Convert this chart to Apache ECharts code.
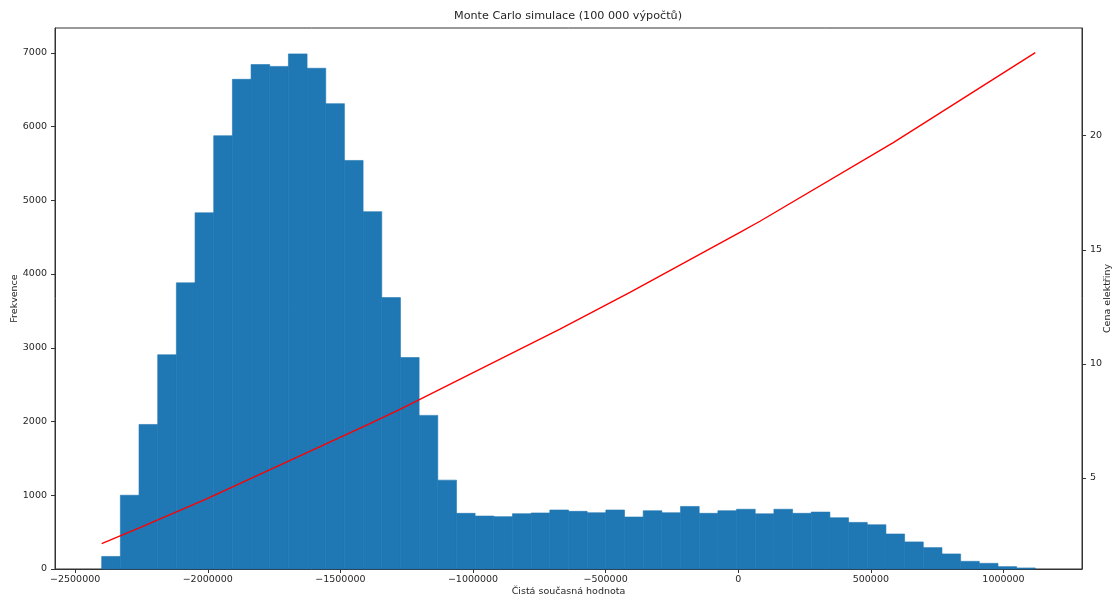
<!DOCTYPE html>
<html><head><meta charset="utf-8">
<script src="https://cdn.jsdelivr.net/npm/echarts@6/dist/echarts.min.js"></script>
<style>html,body{margin:0;padding:0;background:#fff}#c{width:1117px;height:599px}</style>
</head><body><div id="c"></div>
<script>
// Histogram of NPV (Čistá současná hodnota), 50 bins
const histMin = -2400000;
const histMax = 1120000;
const binCounts = [170,1000,1960,2905,3880,4830,5875,6640,6840,6815,6985,6790,6310,5540,4845,3680,2868,2083,1205,755,718,710,750,760,800,782,763,800,705,790,763,848,755,790,810,748,810,755,772,695,632,600,475,367,290,204,104,77,32,14];
// Electricity price line (right axis)
const lineX = [-2400000,-2256000,-2004500,-1388750,-1275630,-672320,-408370,6410,81830,584460,1120000];
const lineY = [2.12,2.82,4.08,7.38,8.01,11.52,13.13,15.76,16.25,19.70,23.64];
// Tick labels
const xTicks = [-2500000,-2000000,-1500000,-1000000,-500000,0,500000,1000000];
const yTicks = [0,1000,2000,3000,4000,5000,6000,7000];
const y2Ticks = [5,10,15,20];

const binW = (histMax - histMin) / binCounts.length;
const histData = binCounts.map((c, i) => [histMin + i * binW, histMin + (i + 1) * binW, c]);
const lineData = lineX.map((x, i) => [x, lineY[i]]);

const FONT = 'DejaVu Sans';
const TXT = '#262626';
const fmt = v => (v < 0 ? '\u2212' + Math.abs(v) : String(v));

const chart = echarts.init(document.getElementById('c'), null, {renderer: 'canvas'});
chart.setOption({
  animation: false,
  backgroundColor: '#fff',
  title: {
    text: 'Monte Carlo simulace (100 000 výpočtů)',
    left: 454, top: 11, padding: 0,
    textStyle: {fontFamily: FONT, fontSize: 11.2, fontWeight: 'normal', color: TXT}
  },
  grid: {left: 55, right: 35, top: 28, bottom: 30, containLabel: false, outerBoundsMode: 'none',
         show: true, borderColor: '#333', borderWidth: 1, backgroundColor: 'transparent'},
  xAxis: {
    type: 'value', min: -2576000, max: 1296000,
    name: 'Čistá současná hodnota', nameLocation: 'middle', nameGap: 18, nameMoveOverlap: false,
    nameTextStyle: {fontFamily: FONT, fontSize: 9.5, color: TXT},
    axisLine: {show: true, onZero: false, lineStyle: {color: '#333', width: 1}},
    axisTick: {show: true, customValues: xTicks, length: 4, lineStyle: {color: '#333'}},
    axisLabel: {customValues: xTicks, formatter: fmt, margin: 6, fontFamily: FONT, fontSize: 9.5, color: TXT},
    splitLine: {show: false}
  },
  yAxis: [{
    type: 'value', min: 0, max: 7336, position: 'left',
    name: 'Frekvence', nameLocation: 'middle', nameGap: 35, nameRotate: 90, nameMoveOverlap: false,
    nameTextStyle: {fontFamily: FONT, fontSize: 9.5, color: TXT},
    axisLine: {show: true, onZero: false, lineStyle: {color: '#333', width: 1}},
    axisTick: {show: true, customValues: yTicks, length: 4, lineStyle: {color: '#333'}},
    axisLabel: {customValues: yTicks, formatter: fmt, margin: 8, fontFamily: FONT, fontSize: 9.5, color: TXT},
    splitLine: {show: false}
  }, {
    type: 'value', min: 1.009, max: 24.72, position: 'right',
    name: 'Cena elektřiny', nameLocation: 'middle', nameGap: 21, nameRotate: 90, nameMoveOverlap: false,
    nameTextStyle: {fontFamily: FONT, fontSize: 9.5, color: TXT},
    axisLine: {show: true, onZero: false, lineStyle: {color: '#333', width: 1}},
    axisTick: {show: true, customValues: y2Ticks, length: 4, lineStyle: {color: '#333'}},
    axisLabel: {customValues: y2Ticks, formatter: fmt, margin: 8, fontFamily: FONT, fontSize: 9.5, color: TXT},
    splitLine: {show: false}
  }],
  series: [{
    type: 'custom',
    xAxisIndex: 0, yAxisIndex: 0,
    encode: {x: [0, 1], y: 2},
    data: histData,
    renderItem: function (params, api) {
      const p0 = api.coord([api.value(0), api.value(2)]);
      const p1 = api.coord([api.value(1), 0]);
      return {type: 'rect', shape: {x: p0[0], y: p0[1], width: p1[0] - p0[0], height: p1[1] - p0[1]},
              style: {fill: '#1f77b4', stroke: '#1f77b4', lineWidth: 0.6}};
    },
    z: 2
  }, {
    type: 'line',
    xAxisIndex: 0, yAxisIndex: 1,
    data: lineData,
    showSymbol: false,
    lineStyle: {color: '#ff0000', width: 1.4},
    itemStyle: {color: '#ff0000'},
    z: 3
  }]
});
</script></body></html>
